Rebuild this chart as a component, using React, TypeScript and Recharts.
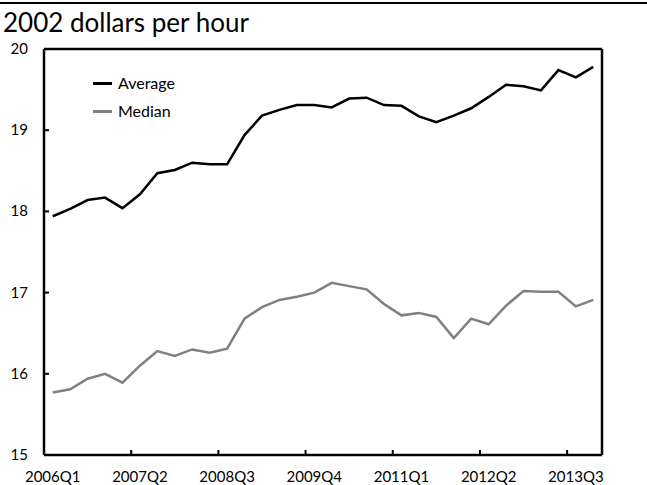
import {
  ComposedChart,
  Line,
  XAxis,
  YAxis,
  ReferenceLine,
  Legend,
} from 'recharts'

const quarters = [
  '2006Q1', '2006Q2', '2006Q3', '2006Q4',
  '2007Q1', '2007Q2', '2007Q3', '2007Q4',
  '2008Q1', '2008Q2', '2008Q3', '2008Q4',
  '2009Q1', '2009Q2', '2009Q3', '2009Q4',
  '2010Q1', '2010Q2', '2010Q3', '2010Q4',
  '2011Q1', '2011Q2', '2011Q3', '2011Q4',
  '2012Q1', '2012Q2', '2012Q3', '2012Q4',
  '2013Q1', '2013Q2', '2013Q3', '2013Q4',
]

const average = [
  17.94, 18.03, 18.14, 18.17, 18.04, 18.21, 18.47, 18.51,
  18.6, 18.58, 18.58, 18.94, 19.18, 19.25, 19.31, 19.31,
  19.28, 19.39, 19.4, 19.31, 19.3, 19.17, 19.1, 19.18,
  19.27, 19.41, 19.56, 19.54, 19.49, 19.74, 19.65, 19.78,
]

const median = [
  15.77, 15.81, 15.94, 16.0, 15.89, 16.1, 16.28, 16.22,
  16.3, 16.26, 16.31, 16.68, 16.82, 16.91, 16.95, 17.0,
  17.12, 17.08, 17.04, 16.86, 16.72, 16.75, 16.7, 16.44,
  16.68, 16.61, 16.84, 17.02, 17.01, 17.01, 16.83, 16.91,
]

const yTicks = [15, 16, 17, 18, 19, 20]

const data = quarters.map((q, i) => ({ q, average: average[i], median: median[i] }))

const W = 647
const H = 485
const LEFT = 44
const RIGHT = 45
const TOP = 49
const XH = 30
const BAND = (W - LEFT - RIGHT) / quarters.length
const FONT = 'Lato, "Open Sans", sans-serif'
const AXIS = { stroke: '#000', strokeWidth: 2.5 }

const XTick = (props: any) => {
  const { x, y, payload } = props
  const tx = x - BAND / 2
  return (
    <g>
      <line x1={tx} y1={y} x2={tx} y2={y - 5} stroke="#000" strokeWidth={2} />
      <text x={x} y={y + 27} textAnchor="middle" fontSize={15} fontFamily={FONT} fill="#000">
        {payload.value}
      </text>
    </g>
  )
}

const LeftTick = (props: any) => {
  const { x, y, payload } = props
  return (
    <g>
      <line x1={x} y1={y} x2={x + 5} y2={y} stroke="#000" strokeWidth={2} />
      <text x={x - 16} y={y + 5} textAnchor="end" fontSize={15} fontFamily={FONT} fill="#000">
        {payload.value}
      </text>
    </g>
  )
}

const RightTick = (props: any) => {
  const { x, y, payload } = props
  return (
    <g>
      <line x1={x} y1={y} x2={x - 5} y2={y} stroke="#000" strokeWidth={2} />
      <text x={x + 16} y={y + 5} textAnchor="start" fontSize={15} fontFamily={FONT} fill="#000">
        {payload.value}
      </text>
    </g>
  )
}

const LegendBox = () => (
  <div style={{ fontFamily: FONT, fontSize: 16, color: '#000', lineHeight: '28px' }}>
    {[
      { name: 'Average', color: '#000' },
      { name: 'Median', color: '#808080' },
    ].map((s) => (
      <div key={s.name} style={{ display: 'flex', alignItems: 'center' }}>
        <span style={{ display: 'inline-block', width: 19, height: 3, background: s.color, marginRight: 6 }} />
        {s.name}
      </div>
    ))}
  </div>
)

const App = (): JSX.Element => {
  return (
    <div style={{ position: 'absolute', left: 0, top: 0, width: W, height: H, background: '#fff' }}>
      <div style={{ position: 'absolute', left: 0, top: 2, width: W, height: 2, background: '#000' }} />
      <div
        style={{
          position: 'absolute',
          left: 3,
          top: 6,
          fontFamily: FONT,
          fontSize: 26,
          lineHeight: '32px',
          color: '#000',
          whiteSpace: 'nowrap',
        }}
      >
        2002 dollars per hour
      </div>
      <ComposedChart
        width={W}
        height={H}
        data={data}
        margin={{ top: TOP, right: 0, bottom: 0, left: 0 }}
      >
        <XAxis
          dataKey="q"
          scale="band"
          interval={4}
          height={XH}
          axisLine={AXIS}
          tickLine={false}
          tickSize={0}
          tickMargin={0}
          tick={<XTick />}
        />
        <YAxis
          yAxisId="left"
          orientation="left"
          width={LEFT}
          domain={[15, 20]}
          ticks={yTicks}
          axisLine={AXIS}
          tickLine={false}
          tickSize={0}
          tickMargin={0}
          tick={<LeftTick />}
        />
        <YAxis
          yAxisId="right"
          orientation="right"
          width={RIGHT}
          domain={[15, 20]}
          ticks={yTicks}
          axisLine={AXIS}
          tickLine={false}
          tickSize={0}
          tickMargin={0}
          tick={<RightTick />}
        />
        <ReferenceLine yAxisId="left" y={20} stroke="#000" strokeWidth={2.5} />
        <Legend
          layout="vertical"
          verticalAlign="middle"
          align="center"
          content={<LegendBox />}
          wrapperStyle={{ left: 93, top: 69, width: 120 }}
        />
        <Line
          yAxisId="left"
          dataKey="average"
          name="Average"
          stroke="#000"
          strokeWidth={2.5}
          dot={false}
          isAnimationActive={false}
        />
        <Line
          yAxisId="left"
          dataKey="median"
          name="Median"
          stroke="#808080"
          strokeWidth={2.5}
          dot={false}
          isAnimationActive={false}
        />
      </ComposedChart>
    </div>
  )
}

export default App
